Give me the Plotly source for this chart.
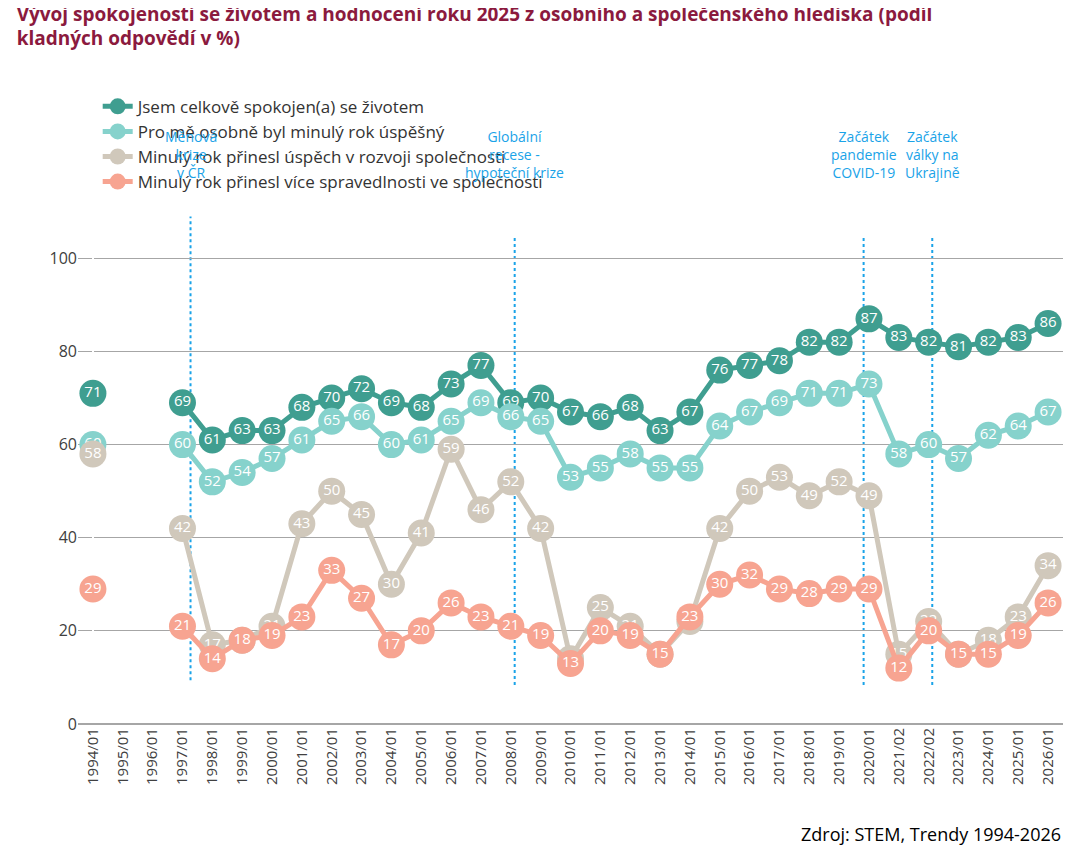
import plotly.graph_objects as go

periods = [f"{y}/01" for y in range(1994, 2021)] + ["2021/02", "2022/02", "2023/01", "2024/01", "2025/01", "2026/01"]

spokojen = [71, None, None, 69, 61, 63, 63, 68, 70, 72, 69, 68, 73, 77, 69, 70, 67, 66, 68, 63, 67, 76, 77, 78, 82, 82, 87, 83, 82, 81, 82, 83, 86]
uspesny = [60, None, None, 60, 52, 54, 57, 61, 65, 66, 60, 61, 65, 69, 66, 65, 53, 55, 58, 55, 55, 64, 67, 69, 71, 71, 73, 58, 60, 57, 62, 64, 67]
rozvoj = [58, None, None, 42, 17, 18, 21, 43, 50, 45, 30, 41, 59, 46, 52, 42, 14, 25, 21, 15, 22, 42, 50, 53, 49, 52, 49, 15, 22, 15, 18, 23, 34]
spravedlnost = [29, None, None, 21, 14, 18, 19, 23, 33, 27, 17, 20, 26, 23, 21, 19, 13, 20, 19, 15, 23, 30, 32, 29, 28, 29, 29, 12, 20, 15, 15, 19, 26]

names = ["Jsem celkově spokojen(a) se životem", "Pro mě osobně byl minulý rok úspěšný",
         "Minulý rok přinesl úspěch v rozvoji společnosti", "Minulý rok přinesl více spravedlnosti ve společnosti"]
colors = ["#3F9E90", "#86D2CC", "#D0C8BB", "#F7A491"]

events = ["Měnová<br>krize<br>v ČR", "Globální<br>recese -<br>hypoteční krize", "Začátek<br>pandemie<br>COVID-19", "Začátek<br>války na<br>Ukrajině"]
event_pos = [3.27, 14.13, 25.82, 28.12]
event_top = [109, 104.5, 104.5, 104.5]
event_bottom = [9.4, 8.4, 8.4, 8.4]

x = list(range(len(periods)))
fig = go.Figure()
for vals, name, col in zip([spokojen, uspesny, rozvoj, spravedlnost], names, colors):
    fig.add_trace(go.Scatter(
        x=x, y=vals, name=name, mode="lines+markers+text",
        line=dict(color=col, width=5), marker=dict(color=col, size=27),
        text=[str(v) if v is not None else "" for v in vals], textposition="middle center",
        textfont=dict(color="white", size=15, family="Open Sans"),
        connectgaps=False, cliponaxis=False))

for t, p, top, bot in zip(events, event_pos, event_top, event_bottom):
    fig.add_shape(type="line", x0=p, x1=p, y0=bot, y1=top,
                  line=dict(color="#1AA3E8", width=2, dash="dot"), layer="below")
    fig.add_annotation(x=p, y=1, yref="paper", yanchor="bottom", yshift=28, text=t, showarrow=False,
                       font=dict(color="#1AA3E8", size=14), align="center")

fig.update_layout(
    width=1081, height=850, plot_bgcolor="white", paper_bgcolor="white",
    font=dict(family="Open Sans", size=15, color="#404040"),
    title=dict(text="<b>Vývoj spokojenosti se životem a hodnocení roku 2025 z osobního a společenského hlediska (podíl<br>kladných odpovědí v %)</b>",
               x=0.008, xanchor="left", y=0.985, yanchor="top", font=dict(size=19, color="#8B1A3E")),
    legend=dict(orientation="h", x=0.02, y=0.905, yref="container", yanchor="top", xanchor="left",
                entrywidth=505, font=dict(size=17, color="#333333"), traceorder="normal"),
    margin=dict(l=70, r=26, t=180, b=134),
    showlegend=True,
)
fig.update_xaxes(tickvals=x, ticktext=periods, tickangle=-90, range=[-0.5, len(periods) - 0.5],
                 showgrid=False, tickfont=dict(size=15, color="#404040"))
fig.update_yaxes(range=[0, 110], tickvals=[0, 20, 40, 60, 80, 100], showgrid=True, gridcolor="#A6A6A6",
                 zeroline=True, zerolinecolor="#A6A6A6", tickfont=dict(size=16, color="#404040"))
fig.add_annotation(x=1, xref="paper", y=-0.215, yref="paper", xanchor="right", yanchor="middle",
                   text="Zdroj: STEM, Trendy 1994-2026", showarrow=False, font=dict(size=18, color="#000000"))
fig.write_html("out.html")
